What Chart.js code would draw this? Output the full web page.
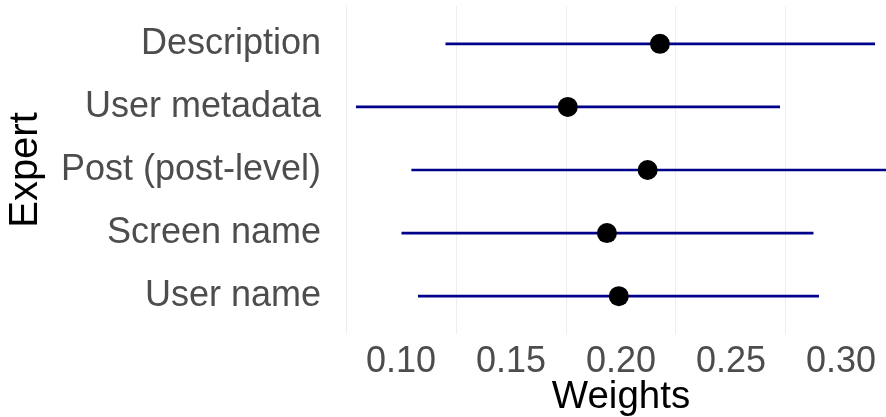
<!DOCTYPE html>
<html>
<head>
<meta charset="utf-8">
<script src="https://cdn.jsdelivr.net/npm/chart.js@4/dist/chart.umd.min.js"></script>
<style>
  html, body { margin: 0; padding: 0; background: #ffffff; overflow: hidden; }
  #wrap { width: 886px; height: 417px; overflow: hidden; }
</style>
</head>
<body>
<div id="wrap"><canvas id="c" width="912" height="417"></canvas></div>
<script>
// Expert weights with interval estimates, top row first
const categories = ['Description', 'User metadata', 'Post (post-level)', 'Screen name', 'User name'];
const estimates  = [0.2177, 0.1758, 0.2121, 0.1936, 0.1990];
const lower      = [0.1202, 0.0795, 0.1047, 0.1002, 0.1077];
const upper      = [0.3155, 0.2723, 0.3230, 0.2875, 0.2900];
const xTicks     = [0.10, 0.15, 0.20, 0.25, 0.30];
const xMinorGrid = [0.075, 0.125, 0.175, 0.225, 0.275, 0.325];

// rows are placed on a numeric axis: first category at the top
const rowOf = i => categories.length - i;

const FONT = '"Liberation Sans", Arial, sans-serif';

const intervalSets = categories.map((c, i) => ({
  type: 'scatter',
  label: c,
  data: [{ x: lower[i], y: rowOf(i) }, { x: upper[i], y: rowOf(i) }],
  showLine: true,
  borderColor: '#00008B',
  borderWidth: 2.6,
  pointRadius: 0,
  order: 2
}));

const pointSet = {
  type: 'scatter',
  label: 'Estimate',
  data: categories.map((c, i) => ({ x: estimates[i], y: rowOf(i) })),
  pointRadius: 10,
  pointBackgroundColor: '#000000',
  pointBorderWidth: 0,
  order: 0
};

const allX = xMinorGrid.concat(xTicks).sort((a, b) => a - b);
const isMajor = v => xTicks.some(t => Math.abs(t - v) < 1e-9);

// keep the plot panel flush with the canvas edges
const noEdgePadding = s => { s.paddingLeft = 0; s.paddingRight = 0; s.paddingTop = 0; s.paddingBottom = 0; };

new Chart(document.getElementById('c'), {
  type: 'scatter',
  data: { datasets: [pointSet, ...intervalSets] },
  options: {
    responsive: false,
    animation: false,
    layout: { autoPadding: false, padding: { top: 6, right: 0, bottom: 0, left: 0 } },
    plugins: { legend: { display: false }, tooltip: { enabled: false } },
    scales: {
      x: {
        type: 'linear',
        min: 0.0677,
        max: 0.3323,
        afterBuildTicks: s => { s.ticks = allX.map(v => ({ value: v })); },
        afterFit: s => { s.height = 83; noEdgePadding(s); },
        border: { display: false },
        grid: {
          drawTicks: false,
          lineWidth: 1,
          color: ctx => (ctx.tick && isMajor(ctx.tick.value)) ? 'rgba(0,0,0,0)' : '#EEEEEE'
        },
        ticks: {
          autoSkip: false,
          maxRotation: 0,
          padding: 6,
          color: '#4D4D4D',
          font: { family: FONT, size: 36 },
          callback: v => isMajor(v) ? v.toFixed(2) : ''
        },
        title: {
          display: true,
          text: 'Weights',
          color: '#000000',
          font: { family: FONT, size: 38.5, lineHeight: 1 },
          padding: { top: 0, bottom: 0 }
        }
      },
      y: {
        type: 'linear',
        min: 0.4,
        max: 5.6,
        afterBuildTicks: s => { s.ticks = categories.map((c, i) => ({ value: rowOf(i) })); },
        afterFit: s => { s.width = 330; noEdgePadding(s); },
        border: { display: false },
        grid: { display: false, drawTicks: false },
        ticks: {
          autoSkip: false,
          padding: 9,
          color: '#4D4D4D',
          font: { family: FONT, size: 36 },
          callback: v => categories[categories.length - v]
        },
        title: {
          display: true,
          text: 'Expert',
          color: '#000000',
          font: { family: FONT, size: 40, lineHeight: 1 },
          padding: { top: 6, bottom: 0 }
        }
      }
    }
  }
});
</script>
</body>
</html>
